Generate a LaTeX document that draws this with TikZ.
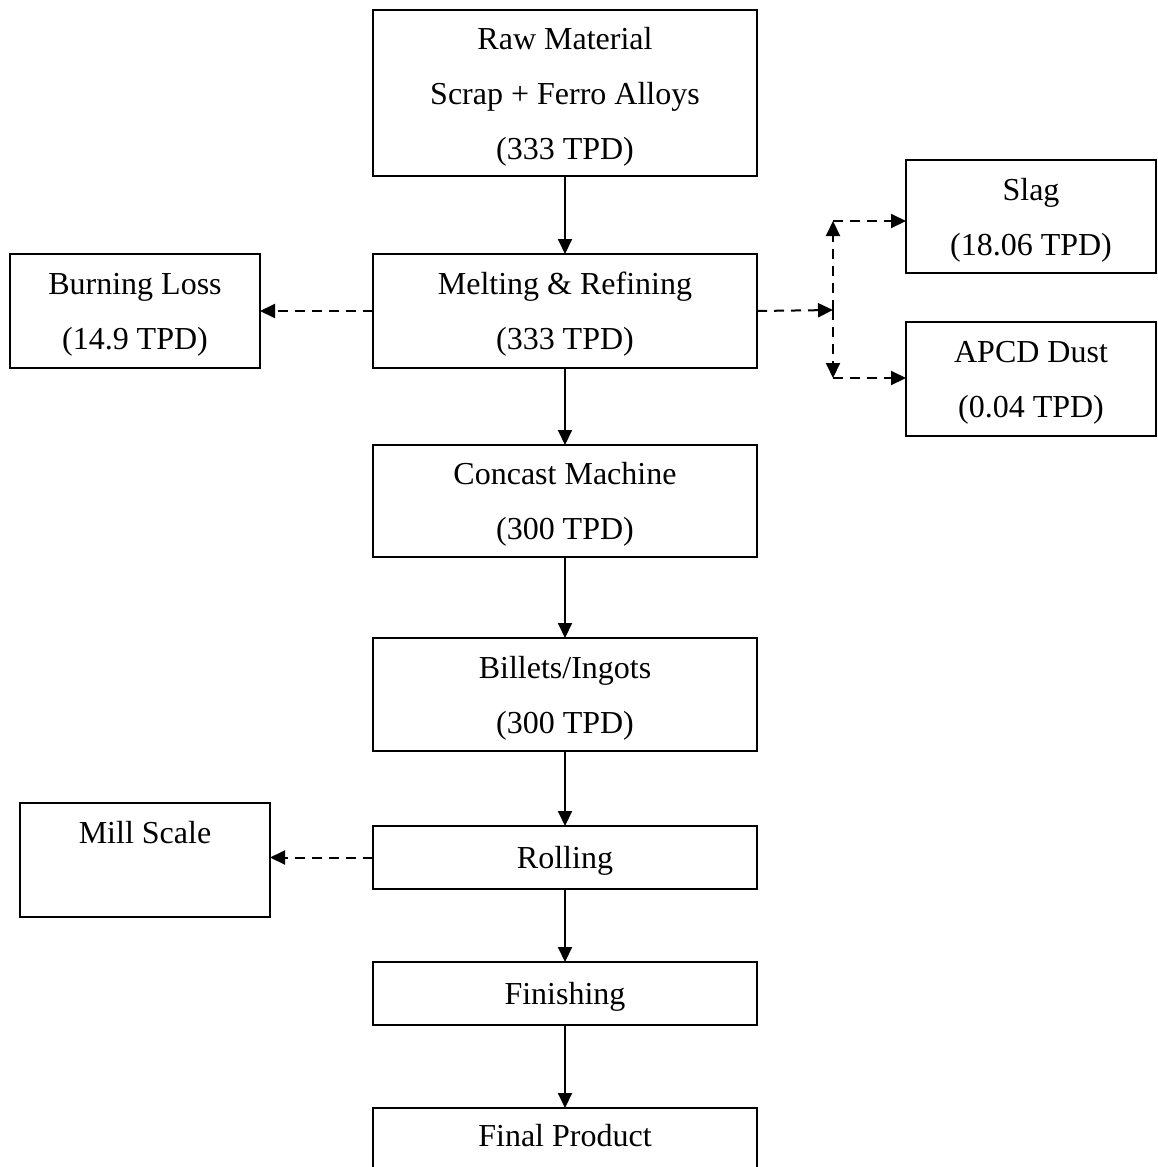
\documentclass[tikz,border=0pt]{standalone}
\usepackage{fontspec}
\setmainfont{Liberation Serif}
\usetikzlibrary{arrows.meta}
\newcommand\boxtext[1]{\begin{tabular}{@{}c@{}}#1\end{tabular}}
\begin{document}
\begin{tikzpicture}[x=0.5pt,y=-0.5pt,
  box/.style={draw,line width=1pt,inner sep=0pt,outer sep=0pt,
    font=\fontsize{16}{27.5}\selectfont},
  flow/.style={line width=1pt,-{Triangle[length=7.5pt,width=7pt]}},
  side/.style={line width=1pt,dash pattern=on 5pt off 3.5pt,-{Triangle[length=7.5pt,width=7pt]}}]
\useasboundingbox (0,0) rectangle (1157,1167);
\clip (0,0) rectangle (1157,1167);
\node[box,minimum width=192pt,minimum height=83pt] (raw) at (565,93) {\boxtext{Raw Material\\Scrap + Ferro Alloys\\(333 TPD)}};
\node[box,minimum width=192pt,minimum height=57pt] (melt) at (565,311) {\boxtext{Melting \& Refining\\(333 TPD)}};
\node[box,minimum width=125pt,minimum height=57pt] (burn) at (135,311) {\boxtext{Burning Loss\\(14.9 TPD)}};
\node[box,minimum width=125pt,minimum height=56.5pt] (slag) at (1031,216.5) {\boxtext{Slag\\(18.06 TPD)}};
\node[box,minimum width=125pt,minimum height=57pt] (apcd) at (1031,379) {\boxtext{APCD Dust\\(0.04 TPD)}};
\node[box,minimum width=192pt,minimum height=56pt] (concast) at (565,501) {\boxtext{Concast Machine\\(300 TPD)}};
\node[box,minimum width=192pt,minimum height=56.5pt] (billets) at (565,694.5) {\boxtext{Billets/Ingots\\(300 TPD)}};
\node[box,minimum width=125pt,minimum height=57pt] (mill) at (145,860) {\boxtext{Mill Scale\\\mbox{}}};
\node[box,minimum width=192pt,minimum height=31.5pt] (rolling) at (565,857.5) {\boxtext{Rolling}};
\node[box,minimum width=192pt,minimum height=31.5pt] (finishing) at (565,993.5) {\boxtext{Finishing}};
\node[box,minimum width=192pt,minimum height=55pt] (final) at (565,1163) {\boxtext{Final Product\\\mbox{}}};
\draw[flow] (raw) -- (melt);
\draw[flow] (melt) -- (concast);
\draw[flow] (concast) -- (billets);
\draw[flow] (billets) -- (rolling);
\draw[flow] (rolling) -- (finishing);
\draw[flow] (finishing) -- (final);
\draw[side] (melt.west) -- (burn.east);
\draw[side] (rolling.west) -- (rolling.west -| mill.east);
\coordinate (j) at (833,310);
\coordinate (ju) at (833,221);
\coordinate (jd) at (833,378);
\draw[side] (melt.east) -- (j);
\draw[side] (j) -- (ju);
\draw[side] (j) -- (jd);
\draw[side] (ju) -- (ju -| slag.west);
\draw[side] (jd) -- (jd -| apcd.west);
\end{tikzpicture}
\end{document}
